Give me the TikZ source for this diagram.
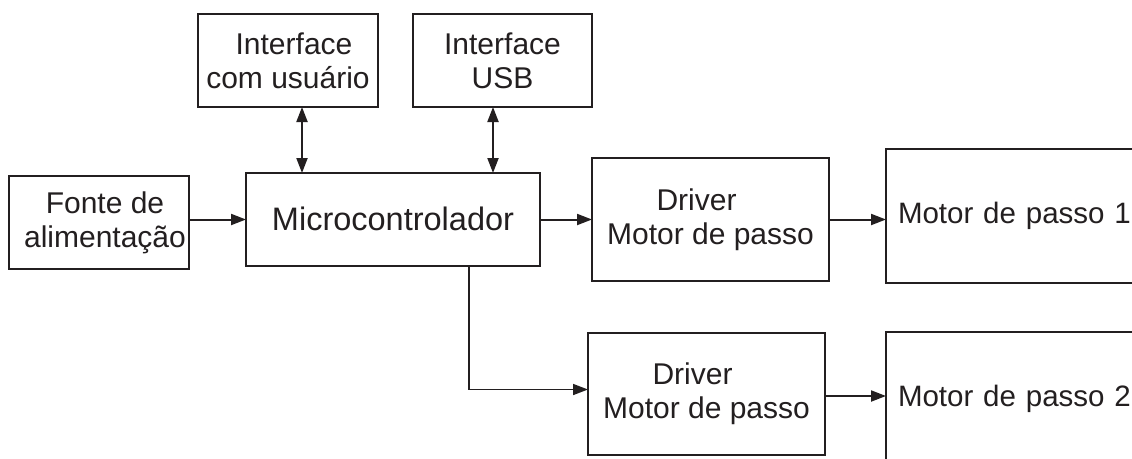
\documentclass[tikz,border=0pt]{standalone}
\usepackage{fontspec}
\setmainfont{Liberation Sans}
\usetikzlibrary{arrows.meta}
\definecolor{ink}{RGB}{35,31,32}
\begin{document}
\begin{tikzpicture}[x=1pt,y=-1pt,
  blk/.style={draw=ink, line width=2pt, rectangle, inner sep=0pt, outer sep=0pt,
    align=center, text=ink, font=\fontsize{30}{34}\selectfont},
  motorblk/.style={blk, align=left, text width=256pt, inner xsep=12pt,
    minimum width=280pt, minimum height=134pt, font=\fontsize{29.5}{34}\selectfont},
  conn/.style={draw=ink, line width=2pt, -{Triangle[length=15pt,width=11pt]}},
  bconn/.style={conn, {Triangle[length=15pt,width=11pt]}-{Triangle[length=15pt,width=11pt]}}
]
\useasboundingbox (0,0) rectangle (1132,458);
\clip (0,0) rectangle (1132,458);
\fill[white] (0,0) rectangle (1132,458);

\node[blk, minimum width=180pt, minimum height=93pt] (usr) at (288,60.5)
  {\hspace*{12pt}Interface\\com usuário};
\node[blk, minimum width=179pt, minimum height=93pt] (usb) at (502.5,60.5)
  {Interface\\USB};
\node[blk, minimum width=180pt, minimum height=93pt] (fonte) at (99,222.5)
  {\hspace*{12pt}Fonte de\\\hspace*{12pt}alimentação};
\node[blk, minimum width=294pt, minimum height=93pt, font=\fontsize{32.5}{36}\selectfont] (micro) at (393,219.5)
  {\raisebox{2pt}{Microcontrolador}};
\node[blk, minimum width=237pt, minimum height=123pt] (d1) at (710.5,219.5)
  {Driver\hspace*{28pt}\\Motor de passo};
\node[blk, minimum width=237pt, minimum height=122pt] (d2) at (706.5,394)
  {Driver\hspace*{28pt}\\Motor de passo};
\node[motorblk] (m1) at (1026,216) {Motor de passo 1};
\node[motorblk] (m2) at (1026,399) {Motor de passo 2};

\draw[bconn] ([xshift=14pt]usr.south) -- ([xshift=14pt]usr.south |- micro.north);
\draw[bconn] ([xshift=-9.5pt]usb.south) -- ([xshift=-9.5pt]usb.south |- micro.north);
\draw[conn] (fonte.east |- micro.west) -- (micro.west);
\draw[conn] (micro.east) -- (micro.east -| d1.west);
\draw[conn] (d1.east) -- (d1.east -| m1.west);
\draw[conn, line width=1.6pt] ([xshift=76pt]micro.south) |- ([yshift=4.5pt]d2.west);
\draw[conn] ([yshift=-2pt]d2.east) -- ([yshift=-2pt]d2.east -| m2.west);
\end{tikzpicture}
\end{document}
